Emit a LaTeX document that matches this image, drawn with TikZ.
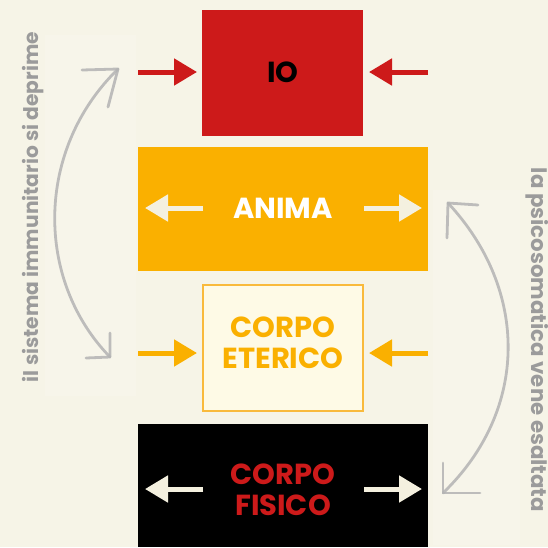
\documentclass[tikz,border=0pt]{standalone}
\usepackage{fontspec}
\setmainfont{Poppins}
\usetikzlibrary{arrows.meta}
\definecolor{bg}{HTML}{F6F4E7}
\definecolor{bglight}{HTML}{F7F5EA}
\definecolor{iored}{HTML}{CD1A1A}
\definecolor{animaor}{HTML}{FAB000}
\definecolor{etfill}{HTML}{FEFAE6}
\definecolor{etborder}{HTML}{F9BA3C}
\definecolor{creamw}{HTML}{F4F0DF}
\definecolor{sidegray}{HTML}{9B9B9B}
\definecolor{curvegray}{HTML}{B3B3B3}
\tikzset{
  boxtxt/.style={font=\bfseries\fontsize{29}{31}\selectfont, align=center, inner sep=0pt},
  fatarrow/.style={line width=5pt, -{Triangle[length=23pt,width=26pt]}},
  sidetxt/.style={text=sidegray, inner sep=0pt},
  sketch/.style={draw=curvegray, line width=2.8pt, line cap=round, line join=round, opacity=0.85},
}
\begin{document}
\begin{tikzpicture}[x=1pt,y=-1pt]
\useasboundingbox (0,0) rectangle (548,547);
\fill[bg] (0,0) rectangle (548,547);
\fill[bglight] (45,35) rectangle (136,396);
\fill[bglight] (433,190) rectangle (520,545);

% boxes
\fill[iored] (202,10) rectangle (363,136);
\node[boxtxt, text=black] (io) at (283,72) {IO};
\fill[animaor] (138,147) rectangle (428,271);
\node[boxtxt, text=white] (anima) at (283,208) {ANIMA};
\filldraw[fill=etfill, draw=etborder, line width=1.2pt] (203,285) rectangle (363,411);
\node[boxtxt, text=animaor] (eterico) at (283,343) {CORPO\\ETERICO};
\fill[black] (138,424) rectangle (428,547);
\node[boxtxt, text=iored] (fisico) at (283,490) {CORPO\\FISICO};

% arrows
\coordinate (ioL1) at (138,72); \coordinate (ioL2) at (197,72);
\coordinate (ioR1) at (428,72); \coordinate (ioR2) at (369,72);
\draw[fatarrow, iored] (ioL1) -- (ioL2);
\draw[fatarrow, iored] (ioR1) -- (ioR2);

\coordinate (anL1) at (203,208); \coordinate (anL2) at (145,208);
\coordinate (anR1) at (364,208); \coordinate (anR2) at (422,208);
\draw[fatarrow, creamw] (anL1) -- (anL2);
\draw[fatarrow, creamw] (anR1) -- (anR2);

\coordinate (etL1) at (138,353); \coordinate (etL2) at (197,353);
\coordinate (etR1) at (428,353); \coordinate (etR2) at (369,353);
\draw[fatarrow, animaor] (etL1) -- (etL2);
\draw[fatarrow, animaor] (etR1) -- (etR2);

\coordinate (fiL1) at (203,489); \coordinate (fiL2) at (145,489);
\coordinate (fiR1) at (364,489); \coordinate (fiR2) at (422,489);
\draw[fatarrow, creamw] (fiL1) -- (fiL2);
\draw[fatarrow, creamw] (fiR1) -- (fiR2);

% side texts
\node[sidetxt, rotate=90, font=\bfseries\fontsize{20.2}{24}\selectfont] (lefttxt) at (33,207) {il sistema immunitario si deprime};
\node[sidetxt, rotate=-90, font=\bfseries\fontsize{21.3}{24}\selectfont] (righttxt) at (537,340) {la psicosomatica vene esaltata};

% sketch curves
\coordinate (lt) at (118,69); \coordinate (lb) at (110,357);
\draw[sketch] (lb) .. controls (35,280) and (35,150) .. (lt);
\draw[sketch] (82,70) -- (lt) -- (108,107);
\draw[sketch] (110,333) -- (lb) -- (86,358);

\coordinate (rt) at (448,203); \coordinate (rb) at (443,493);
\draw[sketch] (rt) .. controls (529,290) and (529,410) .. (rb);
\draw[sketch] (478,205) -- (rt) -- (447,238);
\draw[sketch] (443,463) -- (rb) -- (480,493);
\end{tikzpicture}
\end{document}
